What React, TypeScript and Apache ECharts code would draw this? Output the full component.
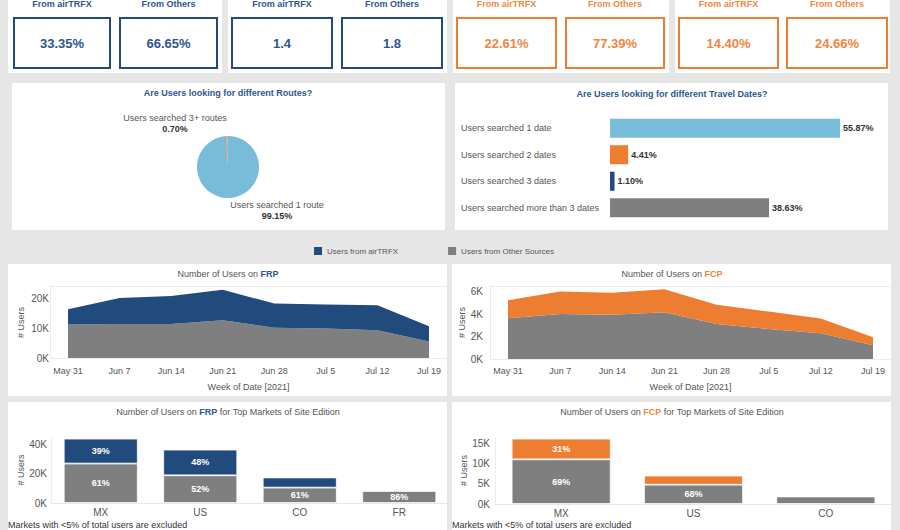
import React, { useEffect, useRef } from "react";
import * as echarts from "echarts";

const NAVY = "#224b7d";
const NAVY_TXT = "#2d5690";
const ORANGE = "#ed7d31";
const ORANGE_TXT = "#ef8643";
const GRAY = "#7f7f7f";
const LIGHTBLUE = "#79bcd9";
const FONT = "Liberation Sans, Arial, sans-serif";

// KPI tiles
const kpiLabels = ["From airTRFX", "From Others"];
const kpiValues = ["33.35%", "66.65%", "1.4", "1.8", "22.61%", "77.39%", "14.40%", "24.66%"];

// Routes pie
const routeNames = ["Users searched 1 route", "Users searched 3+ routes", "Users searched 2 routes"];
const routeValues = [99.15, 0.7, 0.15];

// Travel dates bars
const dateCats = ["Users searched 1 date", "Users searched 2 dates", "Users searched 3 dates", "Users searched more than 3 dates"];
const dateValues = [55.87, 4.41, 1.1, 38.63];

// Weekly series
const weeks = ["May 31", "Jun 7", "Jun 14", "Jun 21", "Jun 28", "Jul 5", "Jul 12", "Jul 19"];
const frpOthers = [11300, 11500, 11500, 12800, 10200, 10000, 9400, 5600];
const frpAir = [5200, 8800, 9500, 10300, 8200, 8100, 8400, 5100];
const fcpOthers = [3630, 4000, 3930, 4170, 3120, 2680, 2290, 1220];
const fcpAir = [1610, 2000, 1970, 2050, 1700, 1540, 1310, 720];

// Markets
const frpMarkets = ["MX", "US", "CO", "FR"];
const frpMktOthers = [26900, 18900, 10500, 8300];
const frpMktAir = [17000, 17500, 6900, 0];
const frpPctOthers = ["61%", "52%", "61%", "86%"];
const frpPctAir = ["39%", "48%", "", ""];

const fcpMarkets = ["MX", "US", "CO"];
const fcpMktOthers = [11000, 4750, 1850];
const fcpMktAir = [5100, 2250, 0];
const fcpPctOthers = ["69%", "68%", ""];
const fcpPctAir = ["31%", "", ""];

const kfmt = (v: number) => `${Math.round(v / 1000)}K`;

export default function App() {
  const ref = useRef<HTMLDivElement>(null);
  useEffect(() => {
    if (!ref.current) return;
    const chart = echarts.init(ref.current, undefined, { renderer: "svg" });

    const graphics: any[] = [];
    const panel = (x: number, y: number, w: number, h: number) =>
      graphics.push({ type: "rect", z: 0, shape: { x, y, width: w, height: h }, style: { fill: "#ffffff" }, silent: true });
    // panels
    panel(8, -10, 214, 83);
    panel(228, -10, 219, 83);
    panel(453, -10, 216, 83);
    panel(675, -10, 215, 83);
    panel(12, 83, 433, 147);
    panel(455, 83, 433, 147);
    panel(8, 264, 439, 132);
    panel(452, 264, 439, 132);
    panel(8, 402, 439, 140);
    panel(452, 402, 439, 140);

    // KPI boxes
    const boxes = [
      [14, 96], [120, 97], [232, 100], [342, 100],
      [457, 99], [566, 98], [679, 99], [787, 100],
    ];
    boxes.forEach(([bx, bw], i) => {
      const orange = i >= 4;
      graphics.push({
        type: "rect", z: 5, shape: { x: bx, y: 18, width: bw, height: 50 },
        style: { fill: "#fff", stroke: orange ? ORANGE : NAVY, lineWidth: 2 }, silent: true,
      });
      graphics.push({
        type: "text", z: 6, x: bx + bw / 2, y: 4,
        style: { text: kpiLabels[i % 2], fill: orange ? ORANGE_TXT : NAVY_TXT, font: `bold 9px ${FONT}`, textAlign: "center", textVerticalAlign: "middle" },
      });
      graphics.push({
        type: "text", z: 6, x: bx + bw / 2, y: 43,
        style: { text: kpiValues[i], fill: orange ? ORANGE_TXT : NAVY_TXT, font: `bold 13px ${FONT}`, textAlign: "center", textVerticalAlign: "middle" },
      });
    });

    // Titles
    const title = (x: number, y: number, text: string, rich?: any, bold = false, color = "#555") =>
      graphics.push({
        type: "text", z: 6, x, y,
        style: { text, rich, fill: color, font: `${bold ? "bold " : ""}9px ${FONT}`, textAlign: "center", textVerticalAlign: "middle" },
      });
    title(228, 93, "Are Users looking for different Routes?", undefined, true, NAVY_TXT);
    title(672, 94, "Are Users looking for different Travel Dates?", undefined, true, NAVY_TXT);
    const richT = {
      n: { fill: NAVY_TXT, fontWeight: "bold", fontSize: 9, fontFamily: FONT },
      o: { fill: ORANGE_TXT, fontWeight: "bold", fontSize: 9, fontFamily: FONT },
      t: { fill: "#555", fontSize: 9, fontFamily: FONT },
    };
    title(228, 274, "{t|Number of Users on }{n|FRP}", richT);
    title(672, 274, "{t|Number of Users on }{o|FCP}", richT);
    title(228, 412, "{t|Number of Users on }{n|FRP}{t| for Top Markets of Site Edition}", richT);
    title(672, 412, "{t|Number of Users on }{o|FCP}{t| for Top Markets of Site Edition}", richT);

    // Pie labels
    const pieRich = { b: { fontWeight: "bold", fill: "#333", fontSize: 9, fontFamily: FONT, lineHeight: 11 }, a: { fill: "#555", fontSize: 9, fontFamily: FONT, lineHeight: 11 } };
    graphics.push({
      type: "text", z: 6, x: 175, y: 112,
      style: { text: `{a|${routeNames[1]}}\n{b|${routeValues[1].toFixed(2)}%}`, rich: pieRich, textAlign: "center", textVerticalAlign: "top" },
    });
    graphics.push({
      type: "text", z: 6, x: 277, y: 199,
      style: { text: `{a|${routeNames[0]}}\n{b|${routeValues[0].toFixed(2)}%}`, rich: pieRich, textAlign: "center", textVerticalAlign: "top" },
    });

    // faint pane lines for area charts
    const faint = (x1: number, y1: number, x2: number, y2: number) =>
      graphics.push({ type: "line", z: 1, shape: { x1, y1, x2, y2 }, style: { stroke: "#ececec", lineWidth: 1 }, silent: true });
    faint(50, 286.5, 447, 286.5);
    faint(50, 358.5, 447, 358.5);
    faint(50.5, 286, 50.5, 359);
    faint(490, 286.5, 891, 286.5);
    faint(490, 359.5, 891, 359.5);
    faint(490.5, 286, 490.5, 360);
    faint(51.5, 437, 51.5, 504);
    faint(495.5, 437, 495.5, 504);

    // footnotes
    [8, 452].forEach((x) =>
      graphics.push({
        type: "text", z: 6, x, y: 520,
        style: { text: "Markets with <5% of total users are excluded", fill: "#333", font: `9px ${FONT}`, textVerticalAlign: "top" },
      })
    );

    const axisLbl = { color: "#555", fontSize: 10, fontFamily: FONT };
    const yName = { color: "#555", fontSize: 9, fontFamily: FONT };

    const option: any = {
      animation: false,
      backgroundColor: "#e6e6e6",
      textStyle: { fontFamily: FONT },
      legend: {
        left: 309, top: 242, itemWidth: 8, itemHeight: 8, itemGap: 50, icon: "rect",
        textStyle: { fontSize: 8, color: "#555", fontFamily: FONT },
        data: [
          { name: "Users from airTRFX", itemStyle: { color: NAVY } },
          { name: "Users from Other Sources", itemStyle: { color: GRAY } },
        ],
        selectedMode: false,
      },
      graphic: { elements: graphics },
      grid: [
        { left: 68, width: 361, top: 287, height: 71 },
        { left: 508, width: 365, top: 286, height: 73 },
        { left: 610, width: 247, top: 115, height: 106 },
        { left: 51, width: 398, top: 437, height: 66 },
        { left: 495, width: 397, top: 437, height: 67 },
      ],
      xAxis: [
        {
          gridIndex: 0, type: "category", data: weeks, boundaryGap: false,
          axisLine: { show: false }, axisTick: { show: false },
          axisLabel: { ...axisLbl, fontSize: 9, margin: 8, interval: 0 },
          name: "Week of Date [2021]", nameLocation: "middle", nameGap: 24, nameTextStyle: yName,
        },
        {
          gridIndex: 1, type: "category", data: weeks, boundaryGap: false,
          axisLine: { show: false }, axisTick: { show: false },
          axisLabel: { ...axisLbl, fontSize: 9, margin: 7, interval: 0 },
          name: "Week of Date [2021]", nameLocation: "middle", nameGap: 23, nameTextStyle: yName,
        },
        { gridIndex: 2, type: "value", min: 0, max: 60, show: false },
        {
          gridIndex: 3, type: "category", data: frpMarkets,
          axisLine: { lineStyle: { color: "#e6e6e6" } }, axisTick: { show: false },
          axisLabel: { ...axisLbl, margin: 4 },
        },
        {
          gridIndex: 4, type: "category", data: fcpMarkets,
          axisLine: { lineStyle: { color: "#e6e6e6" } }, axisTick: { show: false },
          axisLabel: { ...axisLbl, margin: 4 },
        },
      ],
      yAxis: [
        {
          gridIndex: 0, type: "value", min: 0, max: 24000, interval: 10000,
          splitLine: { show: false }, axisLine: { show: false }, axisTick: { show: false },
          axisLabel: { ...axisLbl, margin: 19, formatter: kfmt, showMaxLabel: false },
          name: "# Users", nameLocation: "middle", nameGap: 43, nameTextStyle: yName,
        },
        {
          gridIndex: 1, type: "value", min: 0, max: 6500, interval: 2000,
          splitLine: { show: false }, axisLine: { show: false }, axisTick: { show: false },
          axisLabel: { ...axisLbl, margin: 25, formatter: kfmt, showMaxLabel: false },
          name: "# Users", nameLocation: "middle", nameGap: 41, nameTextStyle: yName,
        },
        {
          gridIndex: 2, type: "category", data: dateCats, inverse: true,
          axisLine: { show: false }, axisTick: { show: false },
          axisLabel: { color: "#555", fontSize: 9, fontFamily: FONT, align: "left", margin: 149 },
        },
        {
          gridIndex: 3, type: "value", min: 0, max: 45000, interval: 20000,
          splitLine: { show: false }, axisLine: { show: false }, axisTick: { show: false },
          axisLabel: { ...axisLbl, margin: 4, formatter: kfmt, showMaxLabel: false },
          name: "# Users", nameLocation: "middle", nameGap: 26, nameTextStyle: yName,
        },
        {
          gridIndex: 4, type: "value", min: 0, max: 16500, interval: 5000,
          splitLine: { show: false }, axisLine: { show: false }, axisTick: { show: false },
          axisLabel: { ...axisLbl, margin: 5, formatter: kfmt, showMaxLabel: false },
          name: "# Users", nameLocation: "middle", nameGap: 27, nameTextStyle: yName,
        },
      ],
      series: [
        {
          type: "line", name: "Users from Other Sources", xAxisIndex: 0, yAxisIndex: 0, stack: "frp",
          data: frpOthers, symbol: "none", lineStyle: { width: 0 }, areaStyle: { color: GRAY, opacity: 1 }, itemStyle: { color: GRAY },
        },
        {
          type: "line", name: "Users from airTRFX", xAxisIndex: 0, yAxisIndex: 0, stack: "frp",
          data: frpAir, symbol: "none", lineStyle: { width: 0 }, areaStyle: { color: NAVY, opacity: 1 }, itemStyle: { color: NAVY },
        },
        {
          type: "line", name: "Users from Other Sources", xAxisIndex: 1, yAxisIndex: 1, stack: "fcp",
          data: fcpOthers, symbol: "none", lineStyle: { width: 0 }, areaStyle: { color: GRAY, opacity: 1 }, itemStyle: { color: GRAY },
        },
        {
          type: "line", name: "Users from airTRFX", xAxisIndex: 1, yAxisIndex: 1, stack: "fcp",
          data: fcpAir, symbol: "none", lineStyle: { width: 0 }, areaStyle: { color: ORANGE, opacity: 1 }, itemStyle: { color: ORANGE },
        },
        {
          type: "pie", name: "Routes", center: [228, 167], radius: 31, startAngle: 90, clockwise: true,
          label: { show: false }, labelLine: { show: false },
          itemStyle: { borderWidth: 0 },
          data: routeValues.map((v, i) => ({ name: routeNames[i], value: v, itemStyle: { color: [LIGHTBLUE, ORANGE, "#e4e4e4"][i] } })),
        },
        {
          type: "bar", name: "Travel Dates", xAxisIndex: 2, yAxisIndex: 2, barWidth: 19,
          data: dateValues.map((v, i) => ({ value: v, itemStyle: { color: [LIGHTBLUE, ORANGE, NAVY, GRAY][i] } })),
          label: {
            show: true, position: "right", distance: 3, color: "#333", fontWeight: "bold", fontSize: 9, fontFamily: FONT,
            formatter: (p: any) => `${Number(p.value).toFixed(2)}%`,
          },
        },
        {
          type: "bar", name: "Users from Other Sources", xAxisIndex: 3, yAxisIndex: 3, stack: "frpm", barWidth: 74,
          data: frpMktOthers, itemStyle: { color: GRAY, borderColor: "#fff", borderWidth: 0.8 },
          label: { show: true, position: "inside", color: "#fff", fontWeight: "bold", fontSize: 9, fontFamily: FONT, formatter: (p: any) => frpPctOthers[p.dataIndex] },
        },
        {
          type: "bar", name: "Users from airTRFX", xAxisIndex: 3, yAxisIndex: 3, stack: "frpm", barWidth: 74,
          data: frpMktAir, itemStyle: { color: NAVY, borderColor: "#fff", borderWidth: 0.8 },
          label: { show: true, position: "inside", color: "#fff", fontWeight: "bold", fontSize: 9, fontFamily: FONT, formatter: (p: any) => frpPctAir[p.dataIndex] },
        },
        {
          type: "bar", name: "Users from Other Sources", xAxisIndex: 4, yAxisIndex: 4, stack: "fcpm", barWidth: 99,
          data: fcpMktOthers, itemStyle: { color: GRAY, borderColor: "#fff", borderWidth: 0.8 },
          label: { show: true, position: "inside", color: "#fff", fontWeight: "bold", fontSize: 9, fontFamily: FONT, formatter: (p: any) => fcpPctOthers[p.dataIndex] },
        },
        {
          type: "bar", name: "Users from airTRFX", xAxisIndex: 4, yAxisIndex: 4, stack: "fcpm", barWidth: 99,
          data: fcpMktAir, itemStyle: { color: ORANGE, borderColor: "#fff", borderWidth: 0.8 },
          label: { show: true, position: "inside", color: "#fff", fontWeight: "bold", fontSize: 9, fontFamily: FONT, formatter: (p: any) => fcpPctAir[p.dataIndex] },
        },
      ],
    };
    chart.setOption(option);
    return () => chart.dispose();
  }, []);

  return <div ref={ref} style={{ position: "absolute", left: 0, top: 0, width: 900, height: 530 }} />;
}
